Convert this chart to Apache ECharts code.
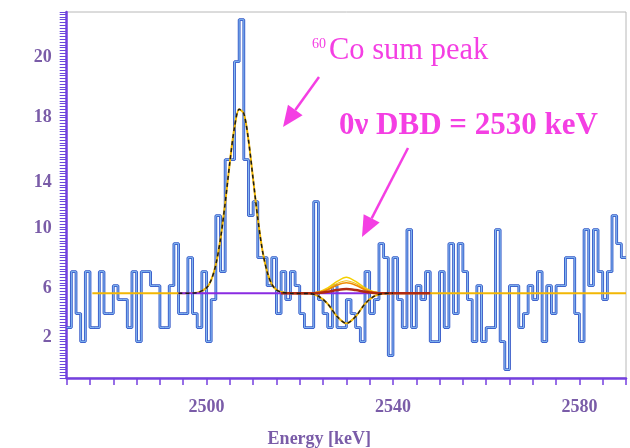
<!DOCTYPE html>
<html><head><meta charset="utf-8">
<script src="https://cdn.jsdelivr.net/npm/echarts@6/dist/echarts.min.js"></script>
<style>html,body{margin:0;padding:0;background:#fff}#c{width:630px;height:448px}</style>
</head><body><div id="c"></div>
<script>
// ---- data ----
const binStart = 2470;          // keV, left edge of first 1-keV bin
const counts = [
  3,7,4,2,7,3,3,7,4,4, 6,5,5,3,7,2,7,7,6,6,
  3,3,6,9,4,4,8,4,3,7, 2,5,11,7,15,15,22,25,15,11,
  12,8,8,6,8,4,7,5,7,6, 4,3,3,12,5,4,3,6,3,3,
  5,4,3,2,7,4,5,9,8,1, 8,5,3,10,3,6,5,7,2,2,
  7,3,9,4,9,7,5,2,6,2, 3,3,10,2,0,6,6,3,4,6,
  5,7,2,6,4,6,6,8,8,4, 2,10,6,10,7,5,7,11,9,8
];
const xTickLabels = [2500, 2540, 2580];
const yLabelValues = [2.3, 5.8, 10.1, 13.4, 18, 22.3];
const yLabelTexts = ['2', '6', '10', '14', '18', '20'];

// fit curve (60Co peak + 0v window), energy / counts
const fitE = [2475.5,2494,2498,2500,2501,2502,2503,2504,2505,2506,2507,2508,2509,2510,2511,2512,2513,2514,2515,2516,2518,2522,2524,2526,2528,2530,2532,2534,2536,2538,2540,2590];
const fitV = [5.45,5.45,5.5,5.85,6.4,7.5,9.35,11.9,14.8,17.3,18.6,18.3,16.4,13.6,10.8,8.5,7.0,6.1,5.7,5.54,5.45,5.43,5.25,4.7,3.8,3.3,3.8,4.7,5.25,5.43,5.45,5.45];
const dashFrom = 2494, dashTo = 2540;

// alternative fits in the 0v window
const bumpE = [2516,2518,2522,2524,2526,2528,2530,2532,2534,2536,2538,2542,2548];
const bumpYellowA = [5.45,5.45,5.47,5.55,5.84,6.3,6.6,6.3,5.84,5.55,5.47,5.45,5.45];
const bumpYellowB = [5.45,5.45,5.46,5.53,5.76,6.15,6.35,6.15,5.76,5.53,5.46,5.45,5.45];
const bumpOrange = [5.45,5.45,5.46,5.52,5.71,6.03,6.2,6.03,5.71,5.52,5.46,5.45,5.45];
const bumpRed = [5.45,5.45,5.45,5.48,5.56,5.68,5.75,5.68,5.56,5.48,5.45,5.45,5.45];
const baseE = [2494, 2535];
const baseV = [5.45, 5.45];

// ---- build ----
const histData = counts.map((c, i) => [binStart + i, c]);
histData.push([binStart + counts.length, counts[counts.length - 1]]);
const pairs = (E, V) => E.map((e, i) => [e, V[i]]);
const fitData = pairs(fitE, fitV);
const dashData = fitData.filter(p => p[0] >= dashFrom && p[0] <= dashTo);

const AX = '#7540e0';
const LBL = '#7a5ca8';
const MAG = '#f43fe3';
const SERIF = 'Liberation Serif';

const chart = echarts.init(document.getElementById('c'), null, {renderer: 'canvas'});

function arrow(x1, y1, x2, y2) {
  const dx = x2 - x1, dy = y2 - y1, len = Math.hypot(dx, dy);
  const ux = dx / len, uy = dy / len, L = 21, W = 9;
  const bx = x2 - L * ux, by = y2 - L * uy;
  return [
    {type: 'line', shape: {x1, y1, x2: bx, y2: by}, style: {stroke: MAG, lineWidth: 2.5}, z: 100},
    {type: 'polygon', shape: {points: [[x2, y2], [bx - W * uy, by + W * ux], [bx + W * uy, by - W * ux]]},
     style: {fill: MAG}, z: 100}
  ];
}

const lineS = (data, color, width, extra) => Object.assign({
  type: 'line', data, symbol: 'none', silent: true, animation: false,
  lineStyle: {color, width}
}, extra || {});

chart.setOption({
  animation: false,
  backgroundColor: '#ffffff',
  grid: {left: 66.7, right: 4, top: 12, bottom: 70, show: true, borderColor: '#b8b8b8', borderWidth: 1,
         containLabel: false, outerBoundsMode: 'none'},
  xAxis: {
    type: 'value', min: 2470, max: 2590, interval: 5,
    name: 'Energy [keV]', nameLocation: 'middle', nameGap: 52,
    nameTextStyle: {fontFamily: SERIF, fontWeight: 'bold', fontSize: 18, color: LBL, padding: [0, 54, 0, 0]},
    axisLine: {onZero: false, lineStyle: {color: AX, width: 2.5}},
    axisTick: {length: 7, lineStyle: {color: AX, width: 1.5}},
    axisLabel: {customValues: xTickLabels, margin: 20, fontFamily: SERIF, fontWeight: 'bold', fontSize: 18, color: LBL,
      formatter: v => String(Math.round(v))},
    splitLine: {show: false}
  },
  yAxis: {
    type: 'value', min: -0.6, max: 25.55, interval: 0.2,
    axisLine: {show: true, onZero: false, lineStyle: {color: AX, width: 2.5}},
    axisTick: {length: 7, lineStyle: {color: '#6a48dc', width: 1}},
    axisLabel: {customValues: yLabelValues, margin: 15, fontFamily: SERIF, fontWeight: 'bold', fontSize: 18, color: LBL,
      formatter: v => {
        let best = 0;
        yLabelValues.forEach((y, i) => { if (Math.abs(y - v) < Math.abs(yLabelValues[best] - v)) best = i; });
        return yLabelTexts[best];
      }},
    splitLine: {show: false}
  },
  series: [
    lineS(histData, '#3558c8', 2.8, {step: 'end', z: 2}),
    lineS(histData, '#86bcf2', 1, {step: 'end', z: 3}),
    lineS(fitData, '#f2b705', 2, {smooth: 0.3, z: 4}),
    lineS(pairs(baseE, baseV), '#8a2be2', 2, {z: 5}),
    lineS(pairs(bumpE, bumpYellowA), '#f5d000', 1.5, {smooth: 0.3, z: 6}),
    lineS(pairs(bumpE, bumpYellowB), '#f0c020', 1.2, {smooth: 0.3, z: 6}),
    lineS(pairs(bumpE, bumpOrange), '#f08a00', 1.5, {smooth: 0.3, z: 6}),
    lineS(pairs(bumpE, bumpRed), '#b02a10', 2.5, {smooth: 0.3, z: 7}),
    lineS(dashData, '#1a1a1a', 1.5, {smooth: 0.3, z: 8, lineStyle: {color: '#1a1a1a', width: 1.5, type: [4, 3]}})
  ],
  graphic: [
    {type: 'text', left: 312, top: 37, z: 100, style: {text: '60', font: '14px "Liberation Serif"', fill: MAG}},
    {type: 'text', left: 329, top: 35, z: 100, style: {text: 'Co sum peak', font: '30.5px "Liberation Serif"', fill: MAG}},
    {type: 'text', left: 339, top: 110, z: 100, style: {text: '0\u03bd DBD = 2530 keV', font: 'bold 31px "Liberation Serif"', fill: MAG}},
    ...arrow(319, 77, 283, 127),
    ...arrow(408, 148, 362, 237)
  ]
});
</script></body></html>
